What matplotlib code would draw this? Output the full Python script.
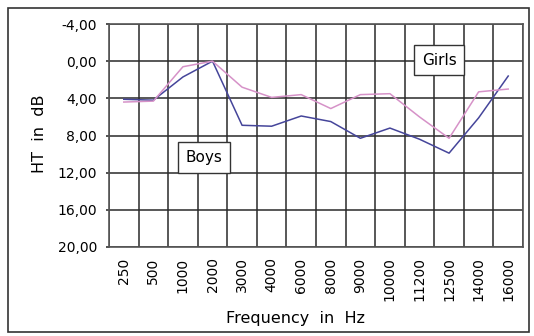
import matplotlib

matplotlib.use("Agg")
import matplotlib.pyplot as plt
from matplotlib.patches import Rectangle

freqs = ["250", "500", "1000", "2000", "3000", "4000", "6000", "8000",
         "9000", "10000", "11200", "12500", "14000", "16000"]
boys = [4.1, 4.2, 1.7, 0.0, 6.9, 7.0, 5.9, 6.5, 8.3, 7.2, 8.4, 9.9, 6.1, 1.6]
girls = [4.4, 4.3, 0.6, 0.0, 2.8, 3.9, 3.6, 5.1, 3.6, 3.5, 6.0, 8.3, 3.3, 3.0]
yticks = [-4, 0, 4, 8, 12, 16, 20]

plt.rcParams["font.family"] = ["DejaVu Sans"]

W, H = 534, 336
fig = plt.figure(figsize=(W / 100, H / 100), dpi=100)
# outer chart frame
fig.patches.append(Rectangle((8 / W, 4 / H), 521 / W, 324 / H,
                             transform=fig.transFigure, fill=False,
                             edgecolor="#333333", linewidth=1.2))

ax = fig.add_axes([109 / W, 89 / H, 414 / W, 223 / H])
x = list(range(len(freqs)))
ax.plot(x, boys, color="#45459a", linewidth=1.1)
ax.plot(x, girls, color="#d692c8", linewidth=1.1)

ax.set_xlim(-0.5, len(freqs) - 0.5)
ax.set_ylim(20, -4)
ax.set_yticks(yticks)
ax.set_yticklabels([f"{v:.2f}".replace(".", ",") for v in yticks], fontsize=10)
ax.set_xticks(x)
ax.set_xticklabels(freqs, rotation=90, fontsize=10)
ax.set_xticks([i - 0.5 for i in range(len(freqs) + 1)], minor=True)
ax.tick_params(axis="x", which="major", length=0, pad=7.5)
ax.tick_params(axis="x", which="minor", length=0)
ax.tick_params(axis="y", length=2.5, width=1.2, color="#333333", pad=6)

ax.grid(True, which="minor", axis="x", color="#2a2a2a", linewidth=1.1)
ax.grid(True, which="major", axis="y", color="#2a2a2a", linewidth=1.1)
for s in ax.spines.values():
    s.set_color("#555555")
    s.set_linewidth(1.2)

fig.text(295 / W, 1 - 319 / H, "Frequency  in  Hz", fontsize=11.5,
         ha="center", va="center")
fig.text(39 / W, 1 - 134 / H, "HT  in  dB", fontsize=11.5, rotation=90,
         ha="center", va="center")

box = dict(boxstyle="square,pad=0.5", facecolor="white", edgecolor="#333333",
           linewidth=1.0)
ax.text(2.7, 10.37, "Boys", fontsize=11, ha="center", va="center", bbox=box)
ax.text(10.66, -0.12, "Girls", fontsize=11, ha="center", va="center", bbox=box)

fig.savefig("out.png", dpi=100)
